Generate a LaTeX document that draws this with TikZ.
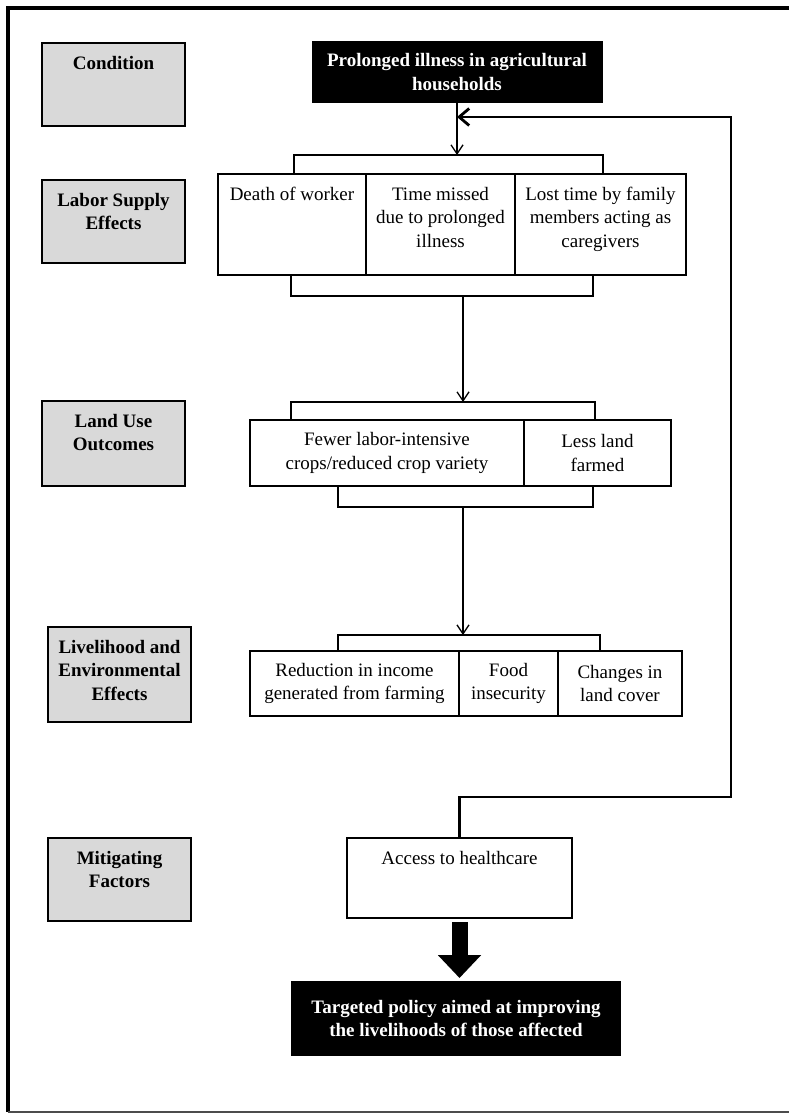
\documentclass[tikz,border=0pt]{standalone}
\usepackage{fontspec}
\setmainfont{Liberation Serif}
\usepackage{xcolor}
\usetikzlibrary{arrows.meta, positioning}
\definecolor{boxgray}{RGB}{217,217,217}
\newcommand{\toptext}[3]{\parbox[c][#2][t]{#1}{\centering\rule{0pt}{26pt}#3}}
\newcommand{\midtext}[3]{\parbox[c][#2][c]{#1}{\centering #3}}

\begin{document}
\begin{tikzpicture}[x=1pt, y=-1pt,
  gbox/.style={draw, fill=boxgray, line width=1.5pt, inner sep=0pt, outer sep=0pt,
               font=\fontsize{19}{23.5}\selectfont\bfseries},
  wbox/.style={draw, fill=white, line width=1.3pt, inner sep=0pt, outer sep=0pt,
               font=\fontsize{19}{23.5}\selectfont},
  bbox/.style={fill=black, text=white, inner sep=0pt, outer sep=0pt,
               font=\fontsize{19}{23.5}\selectfont\bfseries},
  lin/.style={line width=1.3pt},
  arr/.style={lin, -{Straight Barb[length=9pt,width=12pt]}},
  loop/.style={line width=2.8pt, -{Straight Barb[length=10pt,width=17pt]}},
  blockarr/.style={line width=16pt, -{Triangle[length=23pt,width=42pt]}},
]
\useasboundingbox (0,0) rectangle (788,1114);
% outer frame
\draw[line width=4pt] (800,8) -- (8,8) -- (8,1112);
\draw[line width=1.5pt, black!70] (8,1112) -- (800,1112);

% stage labels
\node[gbox] (cond)   at (113.5,84.5)  {\toptext{143pt}{83pt}{Condition}};
\node[gbox] (labor)  at (113.5,221.5) {\toptext{143pt}{83pt}{Labor Supply\\Effects}};
\node[gbox] (landuse) at (113.5,443.5) {\toptext{143pt}{85pt}{Land Use\\Outcomes}};
\node[gbox] (liveli) at (119.5,674.5) {\toptext{143pt}{95pt}{Livelihood and\\Environmental\\Effects}};
\node[gbox] (mitig)  at (119.5,879.5) {\toptext{143pt}{83pt}{Mitigating\\Factors}};

% condition
\node[bbox] (illness) at (457,72) {\midtext{291pt}{62pt}{Prolonged illness in agricultural\\households}};

% labor supply effects
\node[wbox] (death) at (292,224.5) {\toptext{148pt}{101pt}{Death of worker}};
\node[wbox, right=0pt of death] (missed) {\toptext{149pt}{101pt}{Time missed\\due to prolonged\\illness}};
\node[wbox, right=0pt of missed] (lost) {\toptext{171pt}{101pt}{Lost time by family\\members acting as\\caregivers}};

% land use outcomes
\node[wbox] (fewer) at (387,453) {\midtext{274pt}{66pt}{Fewer labor-intensive\\crops/reduced crop variety}};
\node[wbox, right=0pt of fewer] (lessland) {\midtext{147pt}{66pt}{Less land\\farmed}};

% livelihood and environmental effects
\node[wbox] (income) at (354.5,683.5) {\midtext{209pt}{65pt}{Reduction in income\\generated from farming}};
\node[wbox, right=0pt of income] (food) {\midtext{99pt}{65pt}{Food\\insecurity}};
\node[wbox, right=0pt of food] (cover) {\midtext{124pt}{65pt}{Changes in\\land cover}};

% mitigating factors and policy
\node[wbox] (access) at (459.5,878) {\toptext{225pt}{80pt}{Access to healthcare}};
\node[bbox] (policy) at (456,1018.5) {\midtext{330pt}{75pt}{Targeted policy aimed at improving\\the livelihoods of those affected}};

% bracket points
\coordinate (labTop) at (457,155);
\coordinate (labBot) at (463,296);
\coordinate (landTop) at (463,402);
\coordinate (landBot) at (463,507);
\coordinate (livTop) at (463,635);
\coordinate (loopBR) at (731,797);
\coordinate (loopTR) at (731,117);

% brackets
\draw[lin] (294,0 |- death.north) |- (603,155) -- (603,0 |- lost.north);
\draw[lin] (291,0 |- death.south) |- (593,296) -- (593,0 |- lost.south);
\draw[lin] (291,0 |- fewer.north) |- (595,402) -- (595,0 |- lessland.north);
\draw[lin] (338,0 |- fewer.south) |- (593,507) -- (593,0 |- lessland.south);
\draw[lin] (338,0 |- income.north) |- (600,635) -- (600,0 |- cover.north);

% connectors
\draw[arr] (illness.south) -- (labTop);
\draw[arr] (labBot) -- (landTop);
\draw[arr] (landBot) -- (livTop);
\draw[loop] (access.north) |- (loopBR) -- (loopTR) -- (loopTR -| illness.south);
\draw[blockarr, shorten <=4pt, shorten >=3pt] (access.south) -- (access.south |- policy.north);
\end{tikzpicture}
\end{document}
